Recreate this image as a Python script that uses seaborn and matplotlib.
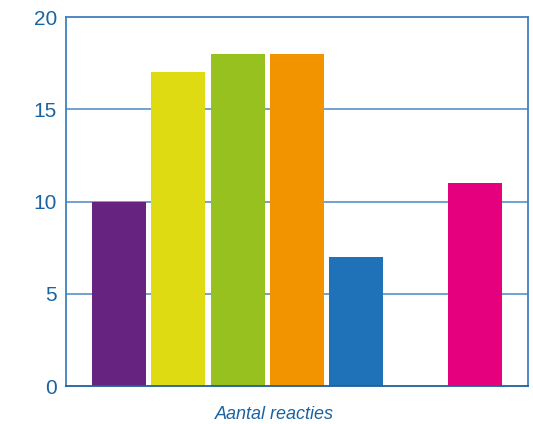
import matplotlib
matplotlib.use("Agg")
import matplotlib.pyplot as plt
import seaborn as sns
import pandas as pd

categories = ["Cat 1", "Cat 2", "Cat 3", "Cat 4", "Cat 5", "Cat 6", "Cat 7"]
values = [10, 17, 18, 18, 7, 0, 11]
colors = ["#66237f", "#dedb12", "#97c11f", "#f29400", "#1f72b8", "#ffffff", "#e5007e"]
yticks = [0, 5, 10, 15, 20]
xlabel = "Aantal reacties"

sns.set_theme(style="white")
plt.rcParams["font.family"] = ["Liberation Sans", "DejaVu Sans"]

df = pd.DataFrame({"cat": categories, "val": values})

fig = plt.figure(figsize=(5.33, 4.24), dpi=100)
ax = fig.add_axes([0.1238, 0.0896, 0.9906 - 0.1238, 0.9599 - 0.0896])

sns.barplot(data=df, x="cat", y="val", hue="cat", palette=colors,
            order=categories, hue_order=categories, legend=False,
            width=0.91, saturation=1, ax=ax, zorder=3, linewidth=0,
            edgecolor="none")

blue = "#1a63a3"
ax.set_ylim(0, 20)
ax.set_xlim(-0.893, 6.893)
ax.set_yticks(yticks)
ax.set_yticklabels([str(t) for t in yticks])
ax.set_xticks([])
ax.tick_params(axis="y", length=0, pad=6.5, labelsize=15, labelcolor=blue)
for y in yticks[1:-1]:
    ax.axhline(y, color="#4a88c4", lw=1.1, zorder=1)
for s in ax.spines.values():
    s.set_visible(True)
    s.set_color("#3f80bf")
    s.set_linewidth(1.3)
ax.spines["bottom"].set_color("#1f5f9c")
ax.spines["bottom"].set_zorder(4)
ax.set_ylabel("")
ax.set_xlabel(xlabel, fontsize=13, style="italic", color=blue)
ax.xaxis.set_label_coords(0.452, -0.055)

fig.savefig("out.png", dpi=100)
